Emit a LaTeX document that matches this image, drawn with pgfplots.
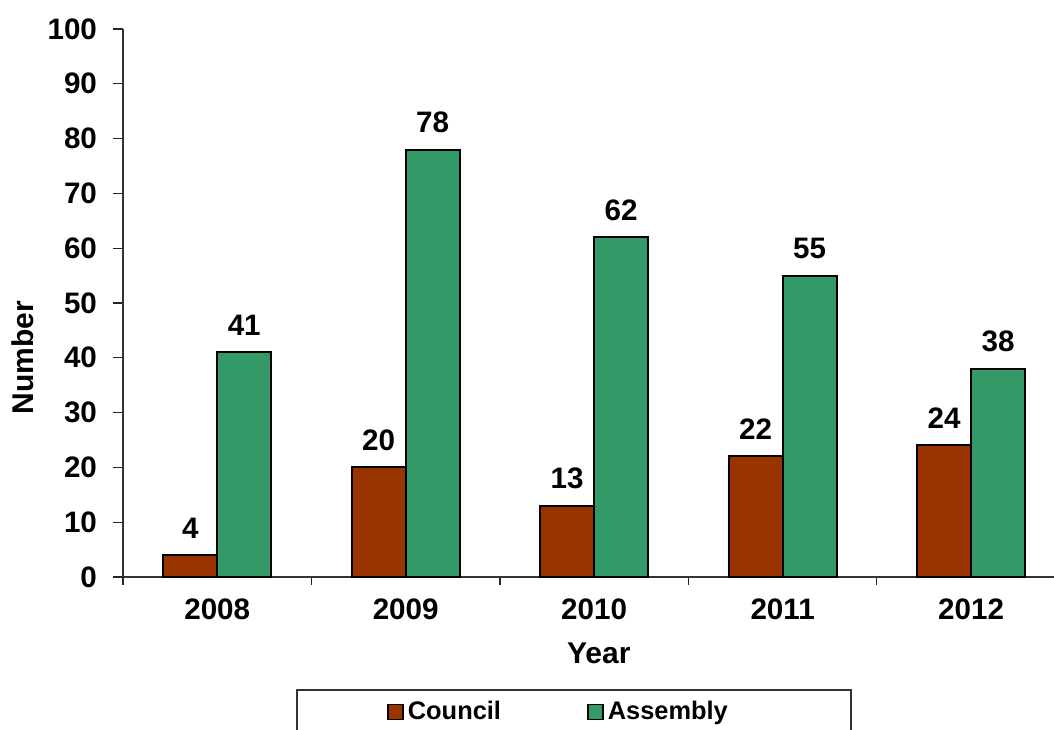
\documentclass[border=0pt]{standalone}
\usepackage{pgfplots}
\pgfplotsset{compat=1.18}
\usepackage{fontspec}
\setmainfont{Liberation Sans}
\definecolor{council}{HTML}{993300}
\definecolor{assembly}{HTML}{339966}
\begin{document}
\begin{tikzpicture}
\begin{axis}[
  at={(0,0)}, anchor=south west,
  scale only axis, width=465.5pt, height=274pt,
  xmin=-0.5, xmax=4.44, ymin=0, ymax=100,
  ybar=0pt, bar width=27pt,
  axis lines=left, axis line style={-, line width=0.6pt, black!80},
  tick align=outside, major tick length=5pt, minor tick length=4pt,
  xtick={0,1,2,3,4}, xticklabels={2008,2009,2010,2011,2012},
  minor xtick={-0.5,0.5,1.5,2.5,3.5},
  every major x tick/.append style={draw=none},
  ytick={0,10,...,100},
  tick style={line width=0.6pt, black!85},
  /pgf/number format/assume math mode=true,
  tick label style={font=\bfseries\fontsize{14.8}{17}\selectfont},
  yticklabel style={xshift=-4.5pt},
  xticklabel style={yshift=-2.5pt},
  xlabel={Year}, ylabel={Number},
  label style={font=\bfseries\fontsize{15}{18}\selectfont},
  xlabel style={at={(axis description cs:0.511,-0.1387)}, anchor=center},
  ylabel style={at={(axis description cs:-0.1074,0.40)}, anchor=center, rotate=0},
  nodes near coords,
  every node near coord/.append style={font=\bfseries\fontsize{14.8}{17}\selectfont, yshift=4.5pt, black},
  clip=false,
  legend columns=2,
  legend style={at={(axis description cs:0.4688,-0.2464)}, anchor=center, draw=none, fill=none,
    font=\bfseries\fontsize{12.7}{15}\selectfont,
    /tikz/every even column/.append style={column sep=41pt}},
  legend image code/.code={\draw[#1, line width=0.9pt] (0pt,-3.75pt) rectangle (7.5pt,3.75pt);},
]
\addplot[fill=council, draw=black, line width=1pt] coordinates {(0,4) (1,20) (2,13) (3,22) (4,24)};
\addplot[fill=assembly, draw=black, line width=1pt] coordinates {(0,41) (1,78) (2,62) (3,55) (4,38)};
\legend{Council,Assembly}
\end{axis}
\draw[line width=0.6pt, black!80] (87pt,-56.5pt) rectangle (364pt,-80pt);
\pgfresetboundingbox
\useasboundingbox (-61.5pt,-76pt) rectangle (465.5pt,288.5pt);
\end{tikzpicture}
\end{document}
